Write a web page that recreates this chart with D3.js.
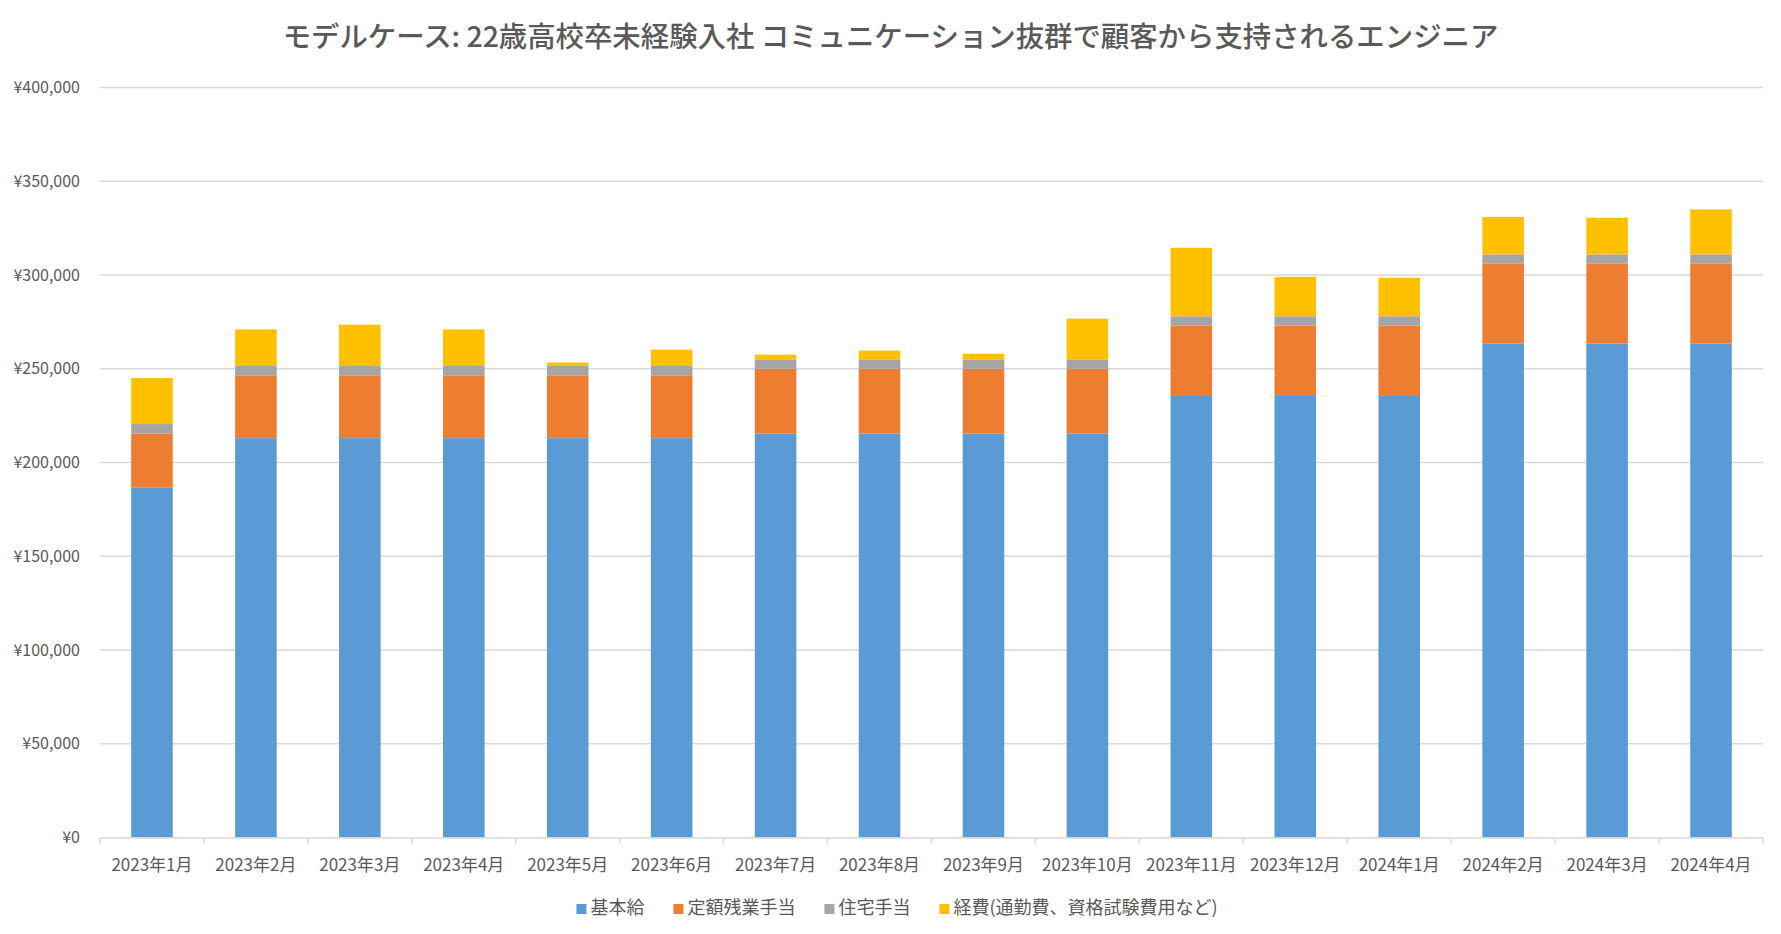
<!DOCTYPE html>
<html><head><meta charset="utf-8">
<script src="https://cdn.jsdelivr.net/npm/d3@7"></script>
<style>
html,body{margin:0;padding:0;background:#fff;}
svg{display:block;font-family:"Noto Sans CJK JP","Noto Sans",sans-serif;}
</style></head>
<body>
<svg id="chart" width="1781" height="934"></svg>
<script>
const titleText = "モデルケース: 22歳高校卒未経験入社 コミュニケーション抜群で顧客から支持されるエンジニア";
const categories = ["2023年1月","2023年2月","2023年3月","2023年4月","2023年5月","2023年6月","2023年7月","2023年8月","2023年9月","2023年10月","2023年11月","2023年12月","2024年1月","2024年2月","2024年3月","2024年4月"];
const seriesNames = ["基本給","定額残業手当","住宅手当","経費(通勤費、資格試験費用など)"];
const seriesColors = ["#5B9BD5","#ED7D31","#A5A5A5","#FFC000"];
const baseSalary = [186500,213000,213000,213000,213000,213000,215500,215500,215500,215500,235500,235500,235500,263500,263500,263500];
const overtime   = [29000,33500,33500,33500,33500,33500,34500,34500,34500,34500,37500,37500,37500,42500,42500,42500];
const housing    = [5000,5000,5000,5000,5000,5000,5000,5000,5000,5000,5000,5000,5000,5000,5000,5000];
const expenses   = [24500,19500,22000,19500,1800,8700,2500,4700,3000,21700,36500,21000,20500,20000,19500,24000];
const yTicks = [0,50000,100000,150000,200000,250000,300000,350000,400000];

const svg = d3.select("#chart");
const W = 1781, H = 934;
const m = {left:100, right:1763, top:87.5, bottom:837.5};
const textColor = "#595959";

const rows = categories.map((c,i)=>({cat:c, "0":baseSalary[i], "1":overtime[i], "2":housing[i], "3":expenses[i]}));
const stack = d3.stack().keys(["0","1","2","3"]);
const stacked = stack(rows);

const x = d3.scaleBand().domain(categories).range([m.left, m.right]).paddingInner(0.6).paddingOuter(0.3);
const y = d3.scaleLinear().domain([0,400000]).range([m.bottom, m.top]);

// title
svg.append("text").attr("x", W/2).attr("y", 47).attr("text-anchor","middle")
  .attr("font-size", 28.4).attr("fill", textColor).attr("font-weight", 500).text(titleText);

// gridlines
svg.append("g").selectAll("line").data(yTicks.filter(d=>d>0)).join("line")
  .attr("x1", m.left).attr("x2", m.right)
  .attr("y1", d=>y(d)).attr("y2", d=>y(d))
  .attr("stroke", "#D9D9D9").attr("stroke-width", 1.5);

// y labels
const yAxis = d3.axisLeft(y).tickValues(yTicks).tickSize(0).tickPadding(20)
  .tickFormat(d=>"¥"+d3.format(",")(d));
const gy = svg.append("g").attr("transform", `translate(${m.left},0)`).call(yAxis);
gy.select(".domain").remove();
gy.selectAll("text").attr("font-size", 16).attr("fill", textColor)
  .attr("font-family", '"Noto Sans CJK JP",sans-serif');

// bars
svg.append("g").selectAll("g").data(stacked).join("g")
  .attr("fill", (d,i)=>seriesColors[i])
  .selectAll("rect").data(d=>d).join("rect")
  .attr("x", d=>x(d.data.cat)).attr("width", x.bandwidth())
  .attr("y", d=>y(d[1])).attr("height", d=>y(d[0])-y(d[1]));

// x axis
const step = x.step();
const xAxisG = svg.append("g");
xAxisG.append("line").attr("x1", m.left).attr("x2", m.right).attr("y1", m.bottom+0.5).attr("y2", m.bottom+0.5)
  .attr("stroke", "#D9D9D9").attr("stroke-width", 1.5);
xAxisG.selectAll("line.tick").data(d3.range(categories.length+1)).join("line").attr("class","tick")
  .attr("x1", i=>m.left + i*step).attr("x2", i=>m.left + i*step)
  .attr("y1", m.bottom).attr("y2", m.bottom+6)
  .attr("stroke", "#D9D9D9").attr("stroke-width", 1.5);
xAxisG.selectAll("text").data(categories).join("text")
  .attr("x", d=>x(d)+x.bandwidth()/2).attr("y", 871)
  .attr("text-anchor","middle").attr("font-size", 17).attr("fill", textColor).text(d=>d);

// legend
const lg = svg.append("g");
const items = lg.selectAll("g").data(seriesNames).join("g");
items.append("rect").attr("width", 10).attr("height", 10).attr("y", -10)
  .attr("fill", (d,i)=>seriesColors[i]);
items.append("text").attr("x", 14).attr("y", 0).attr("font-size", 18).attr("fill", textColor).text(d=>d);
let cx = 0; const gap = 29;
items.each(function(){
  const g = d3.select(this);
  const w = 14 + g.select("text").node().getComputedTextLength();
  g.attr("transform", `translate(${cx},0)`);
  cx += w + gap;
});
const totalW = cx - gap;
lg.attr("transform", `translate(${897 - totalW/2},914)`);
</script>
</body></html>
